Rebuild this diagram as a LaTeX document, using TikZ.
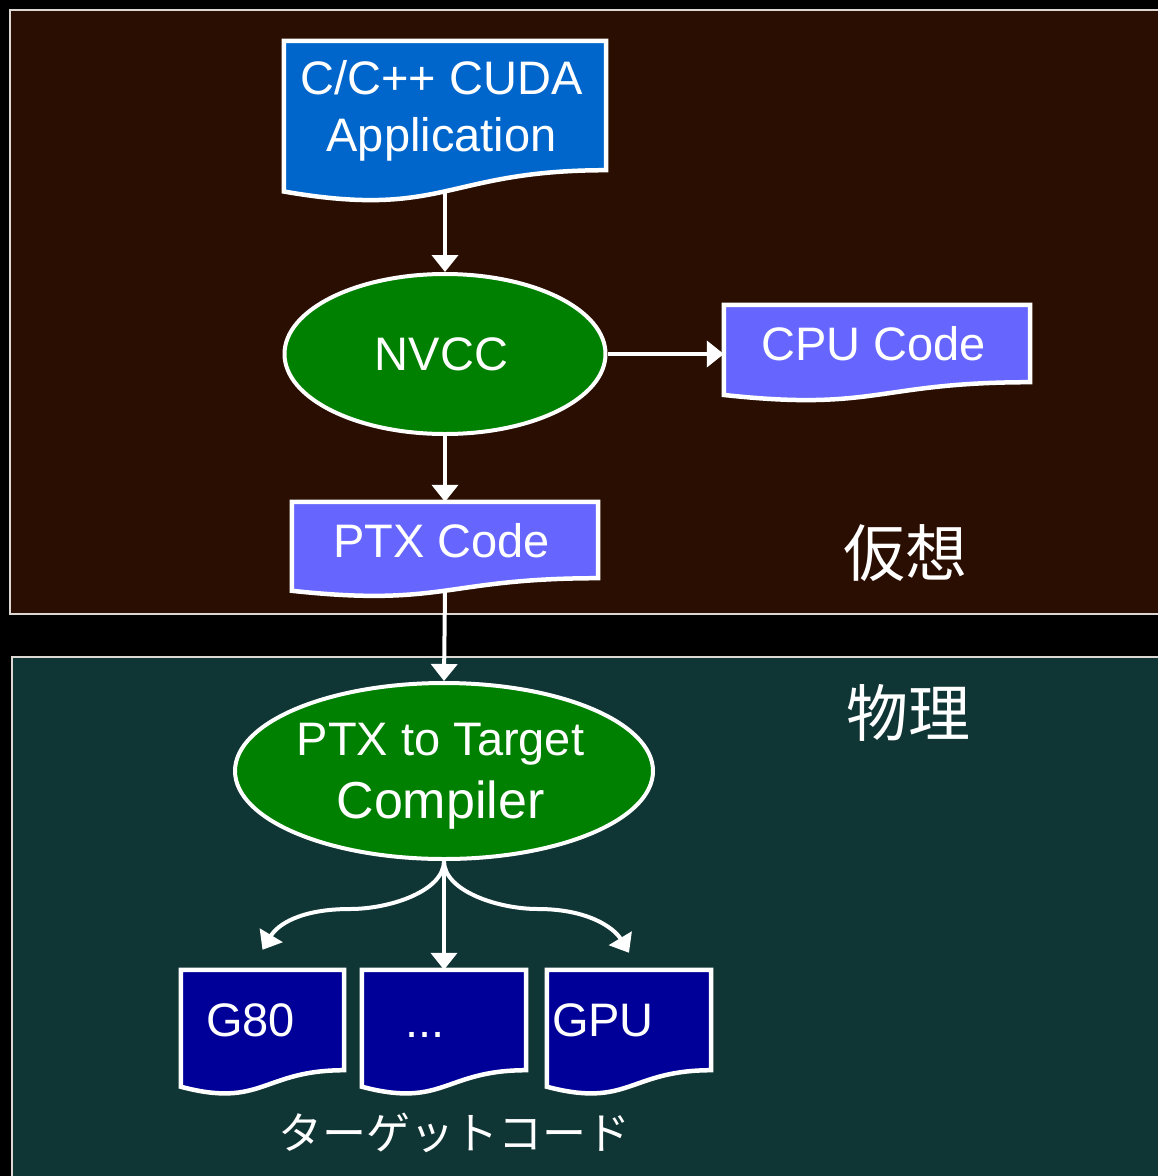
\documentclass[tikz,border=0pt]{standalone}
\usepackage{fontspec}
\setmainfont{Liberation Sans}
\newfontfamily\jp{Noto Sans CJK JP}
\usetikzlibrary{shapes.geometric,arrows.meta,calc}
\pgfdeclarelayer{panel}
\pgfdeclarelayer{shp}
\pgfsetlayers{panel,shp,main}
\definecolor{topbg}{RGB}{43,14,2}
\definecolor{botbg}{RGB}{16,53,53}
\definecolor{appblue}{RGB}{0,102,204}
\definecolor{codeblue}{RGB}{102,102,255}
\definecolor{tgtblue}{RGB}{0,0,153}
\definecolor{nvgreen}{RGB}{0,128,0}
\definecolor{panelline}{RGB}{220,215,210}

\newcommand\docshape[2]{%
  \begin{pgfonlayer}{shp}
    \draw[white, line width=4.5pt, fill=#2, line join=miter]
      (#1.north west) -- (#1.north east) -- (#1.south east)
      .. controls (#1.south) and ($(#1.south)!-0.381!(#1.north)$)
      .. ($(#1.south west)!-0.1646!(#1.north west)$) -- cycle;
  \end{pgfonlayer}
  \coordinate (#1-b) at ($(#1.south)!-0.1635!(#1.north)$);}
% shift a line of text a little to the left, as the reference does
\newcommand\lft[1]{#1\hspace*{7pt}\null}

\begin{document}
\begin{tikzpicture}[x=1pt,y=-1pt,
  txt/.style={text=white, font=\fontsize{47}{57}\selectfont, inner sep=0pt, align=center},
  doc/.style={txt, text depth=0pt},
  oval/.style={ellipse, draw=white, line width=4pt, fill=nvgreen, txt},
  arr/.style={draw=white, line width=4pt, -{Triangle[width=26pt,length=17pt]}},
  jlabel/.style={text=white, font=\jp\fontsize{62}{70}\selectfont, inner sep=0pt}]

\useasboundingbox (0,0) rectangle (1158,1176);

\begin{pgfonlayer}{panel}
  \fill[black] (0,0) rectangle (1158,1176);
  \draw[panelline, line width=2pt, fill=topbg] (10,10) rectangle (1175,614);
  \draw[panelline, line width=2pt, fill=botbg] (12,657) rectangle (1175,1195);
\end{pgfonlayer}

% nodes
\node[doc, minimum width=322pt, minimum height=129pt] (app) at (445,105.5)
  {\lft{C/C++ CUDA}\\\lft{Application}};
\docshape{app}{appblue}
\node[oval, minimum width=321pt, minimum height=160pt] (nvcc) at (445,354) {\lft{NVCC}};
\node[doc, minimum width=306pt, minimum height=77pt] (cpu) at (877,343.5) {\lft{CPU Code}};
\docshape{cpu}{codeblue}
\node[doc, minimum width=306pt, minimum height=76pt] (ptx) at (445,540) {\lft{PTX Code}};
\docshape{ptx}{codeblue}
\node[oval, text depth=0pt, font=\fontsize{47}{63}\selectfont, minimum width=418pt, minimum height=176pt] (comp) at (444,771)
  {\lft{PTX to Target}\\{\fontsize{52}{63}\selectfont\lft{Compiler}}};
\node[doc, minimum width=163pt, minimum height=100pt] (g80) at (262.5,1020) {G80\hspace*{24pt}\null};
\docshape{g80}{tgtblue}
\node[doc, text height=34pt, minimum width=164pt, minimum height=100pt] (dots) at (444,1020) {.\kern0pt.\kern0pt.\hspace*{38pt}\null};
\docshape{dots}{tgtblue}
\node[doc, minimum width=164pt, minimum height=100pt] (gpu) at (629,1020) {GPU\hspace*{52pt}\null};
\docshape{gpu}{tgtblue}

\node[jlabel] (virt) at (905,553) {仮想};
\node[jlabel] (phys) at (908,713) {物理};
\node[text=white, font=\jp\fontsize{44}{50}\selectfont, inner sep=0pt] (tcode) at (454,1133) {ターゲットコード};

% connectors
\draw[arr] (app-b) -- (nvcc.north);
\draw[arr] (nvcc.east) -- (nvcc.east -| cpu.west);
\draw[arr] (nvcc.south) -- (ptx.north);
\draw[arr] (ptx-b) -- (comp.north);
\draw[arr] (comp.south) -- (dots.north);
\draw[arr] (comp.south) .. controls +(0,30) and +(40,0) .. ($(comp.south)+(-94,48)$)
  .. controls +(-50,0) and +(15,-25) .. ([yshift=20pt]g80.north);
\draw[arr] (comp.south) .. controls +(0,30) and +(-40,0) .. ($(comp.south)+(94,48)$)
  .. controls +(50,0) and +(-15,-25) .. ([yshift=17pt]gpu.north);
\end{tikzpicture}
\end{document}
